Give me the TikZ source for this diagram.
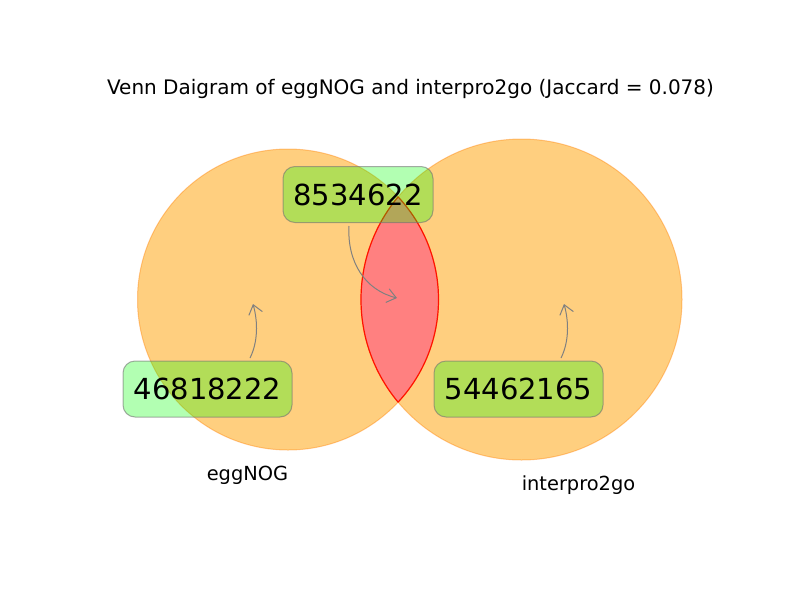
\documentclass[tikz,border=0pt]{standalone}
\usepackage{fontspec}
\setmainfont{DejaVu Sans}
\usetikzlibrary{arrows.meta}
\definecolor{regA}{RGB}{255,207,127}
\definecolor{regAB}{RGB}{255,128,128}
\tikzset{
  numbox/.style={rounded corners=12pt, fill=green, fill opacity=0.3, draw=black!55, draw opacity=0.6, line width=1pt, text opacity=1, minimum height=56pt, inner sep=0pt, font=\fontsize{29pt}{33pt}\selectfont},
  pointer/.style={draw=gray, line width=1pt, -{Straight Barb[length=9pt,width=14pt]}},
  setlabel/.style={font=\fontsize{19.4pt}{23pt}\selectfont},
  circedge/.style={draw=orange, draw opacity=0.4, line width=1pt},
}
\begin{document}
\begin{tikzpicture}[x=1pt,y=-1pt]
\useasboundingbox (0,0) rectangle (800,600);
\fill[white] (0,0) rectangle (800,600);
% set regions
\fill[regA] (288,299.5) circle[radius=150.5pt];
\fill[regA] (521.5,299.5) circle[radius=160.5pt];
\draw[circedge] (288,299.5) circle[radius=150.5pt];
\draw[circedge] (521.5,299.5) circle[radius=160.5pt];
% intersection
\begin{scope}
  \clip (288,299.5) circle[radius=150.5pt];
  \fill[regAB] (521.5,299.5) circle[radius=160.5pt];
  \draw[red!85!orange, line width=1.2pt] (521.5,299.5) circle[radius=160.5pt];
\end{scope}
\begin{scope}
  \clip (521.5,299.5) circle[radius=160.5pt];
  \draw[red!85!orange, line width=1.2pt] (288,299.5) circle[radius=150.5pt];
\end{scope}

\node[font=\fontsize{20pt}{24pt}\selectfont] (title) at (410.5,89) {Venn Daigram of eggNOG and interpro2go (Jaccard = 0.078)};
\node[setlabel] (labA) at (247.5,475) {eggNOG};
\node[setlabel] (labB) at (578.5,485) {interpro2go};

\node[numbox, minimum width=150pt] (ab) at (358,194.5) {8534622};
\node[numbox, minimum width=169pt] (a) at (207.5,389) {46818222};
\node[numbox, minimum width=169pt] (b) at (518.5,389) {54462165};

\coordinate (abtip) at (397,298);
\coordinate (atip) at (253,304);
\coordinate (btip) at (564,304);
\coordinate (abs) at (349,226);
\coordinate (as) at (250,358);
\coordinate (bs) at (561,358);

\draw[pointer] (abs) .. controls (347,262) and (365,290) .. (abtip);
\draw[pointer] (as) .. controls (258,342) and (258,322) .. (atip);
\draw[pointer] (bs) .. controls (569,342) and (569,322) .. (btip);
\end{tikzpicture}
\end{document}
